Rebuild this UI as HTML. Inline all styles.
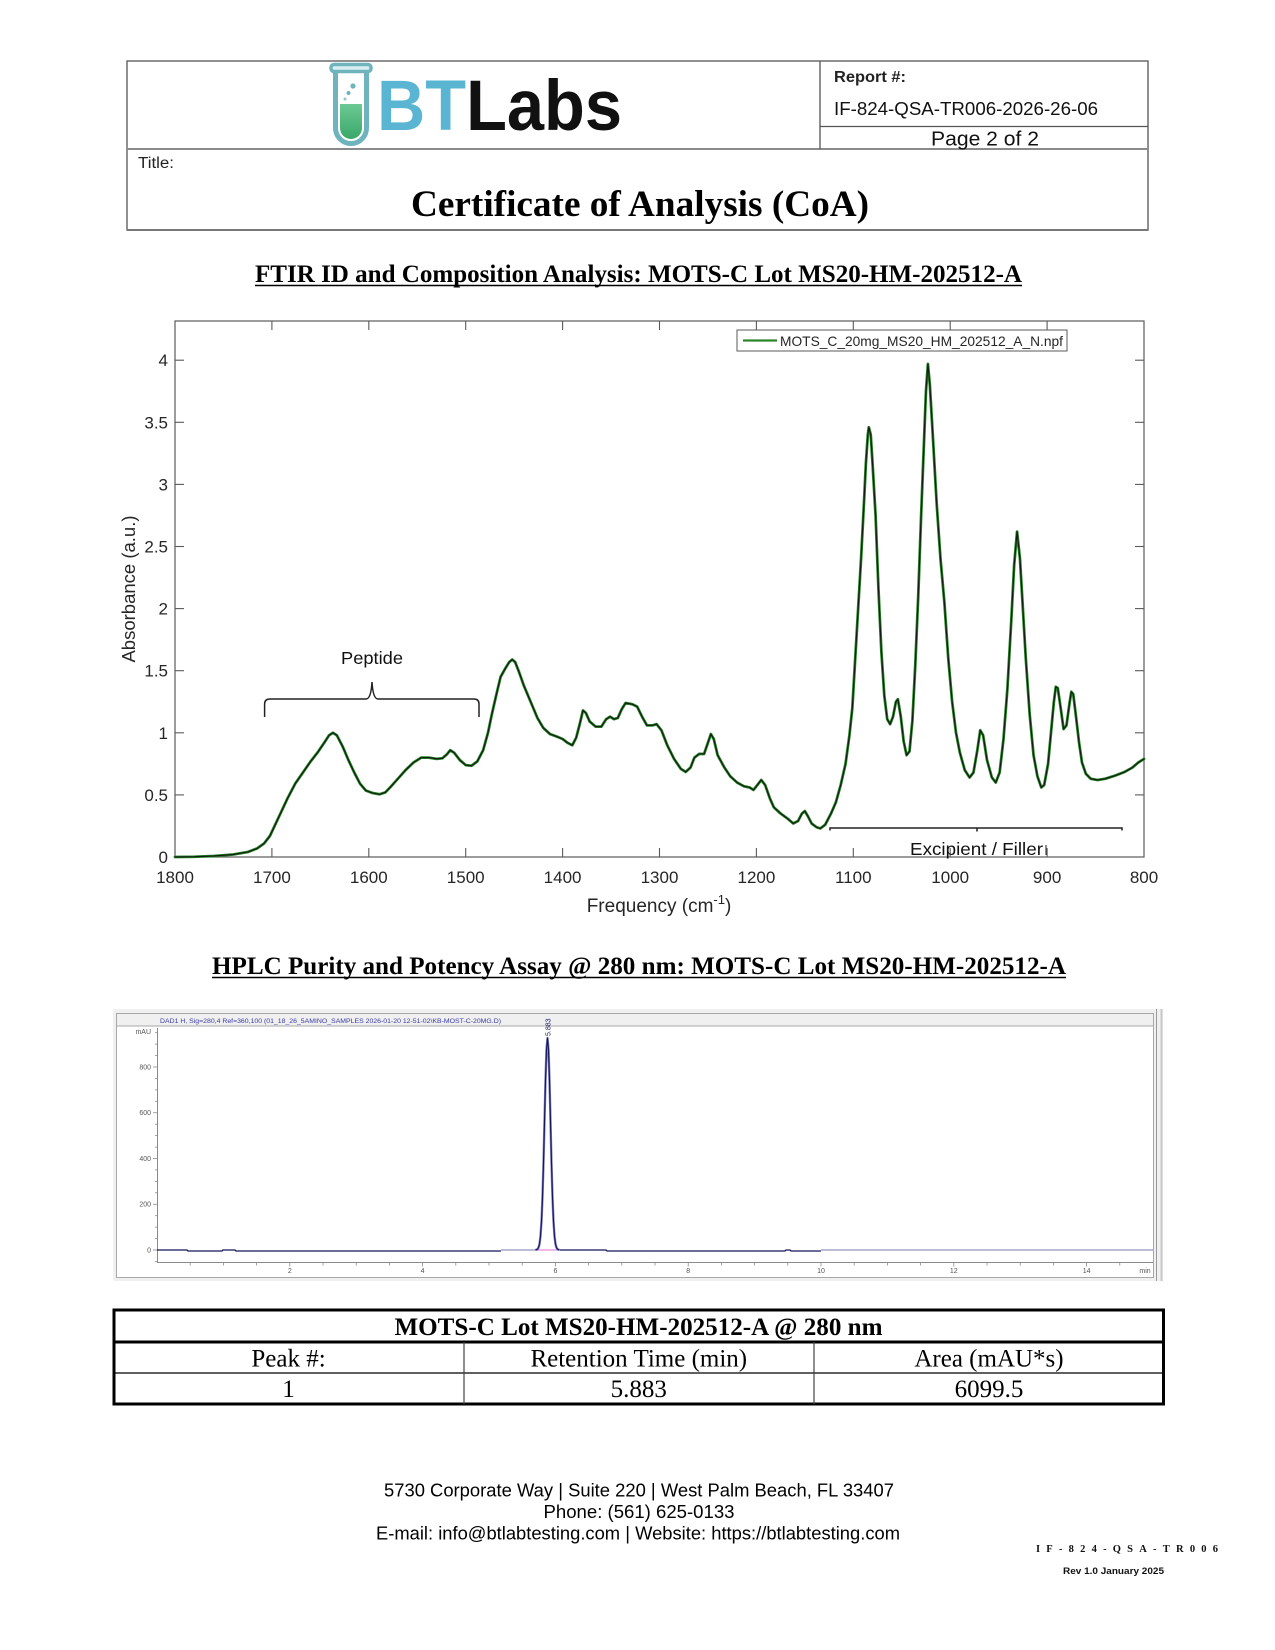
<!DOCTYPE html>
<html>
<head>
<meta charset="utf-8">
<style>
  html,body{margin:0;padding:0;background:#fff;}
  svg{display:block;}
  .sans{font-family:"Liberation Sans",Arial,sans-serif;}
  .serif{font-family:"Liberation Serif","Times New Roman",serif;}
</style>
</head>
<body>
<svg width="1275" height="1650" viewBox="0 0 1275 1650" xmlns="http://www.w3.org/2000/svg">
  <defs>
    <linearGradient id="liq" x1="0" y1="0" x2="0" y2="1">
      <stop offset="0" stop-color="#6cc993"/>
      <stop offset="1" stop-color="#3aa86a"/>
    </linearGradient>
    <polyline id="spec" vector-effect="non-scaling-stroke" points="1800,0 1780,0.002 1760,0.008 1740,0.02 1725,0.04 1715,0.07 1708,0.11 1702,0.17 1696,0.27 1690,0.37 1684,0.47 1676,0.59 1668,0.68 1660,0.77 1653,0.84 1646,0.92 1641,0.98 1637,1.0 1633,0.98 1627,0.89 1621,0.78 1615,0.68 1609,0.59 1603,0.535 1596,0.515 1589,0.505 1583,0.52 1578,0.56 1570,0.63 1562,0.70 1554,0.76 1546,0.80 1538,0.80 1530,0.79 1524,0.795 1519,0.83 1516,0.86 1512,0.84 1506,0.78 1500,0.74 1494,0.735 1488,0.77 1482,0.86 1477,1.0 1473,1.15 1468,1.32 1464,1.45 1459,1.52 1455,1.57 1452,1.59 1449,1.57 1445,1.49 1440,1.38 1433,1.25 1426,1.12 1420,1.04 1413,0.99 1406,0.97 1400,0.95 1395,0.92 1390,0.90 1386,0.96 1382,1.08 1379,1.18 1376,1.16 1372,1.09 1366,1.05 1360,1.05 1355,1.11 1351,1.13 1347,1.11 1343,1.12 1339,1.19 1335,1.24 1328,1.23 1323,1.21 1318,1.13 1313,1.06 1307,1.06 1303,1.07 1298,1.02 1292,0.90 1285,0.79 1278,0.71 1273,0.685 1268,0.72 1264,0.80 1259,0.83 1254,0.83 1250,0.92 1247,0.99 1244,0.95 1240,0.82 1233,0.72 1227,0.65 1220,0.60 1213,0.57 1207,0.56 1203,0.54 1199,0.58 1195,0.62 1191,0.58 1186,0.47 1182,0.40 1175,0.35 1168,0.31 1162,0.27 1157,0.29 1153,0.35 1150,0.37 1147,0.33 1143,0.27 1138,0.24 1134,0.23 1129,0.26 1123,0.35 1118,0.44 1113,0.58 1108,0.75 1104,0.98 1101,1.2 1098,1.6 1095,2.0 1092,2.4 1089,2.85 1087,3.17 1085,3.40 1084,3.46 1082,3.40 1080,3.15 1077,2.75 1074,2.15 1071,1.65 1068,1.30 1065,1.11 1062,1.07 1059,1.13 1056,1.25 1054,1.27 1051,1.13 1048,0.93 1045,0.82 1042,0.85 1039,1.10 1036,1.55 1033,2.1 1030,2.75 1027,3.35 1025,3.75 1023,3.97 1021,3.80 1018,3.40 1014,2.85 1010,2.40 1006,2.05 1002,1.60 998,1.25 994,1.00 990,0.84 985,0.70 980,0.64 976,0.68 972,0.86 969,1.02 966,0.98 962,0.78 957,0.64 953,0.60 949,0.68 945,0.95 941,1.35 937,1.90 934,2.35 931,2.62 928,2.40 925,2.00 922,1.60 918,1.15 914,0.82 910,0.65 906,0.56 903,0.58 899,0.75 896,1.00 893,1.25 891,1.37 889,1.36 886,1.20 883,1.03 880,1.06 877,1.23 875,1.33 873,1.31 870,1.12 867,0.92 864,0.76 860,0.67 855,0.63 848,0.62 840,0.63 830,0.655 820,0.685 812,0.72 806,0.76 800,0.79"/>
  </defs>

  <!-- ================= HEADER BOX ================= -->
  <rect x="127" y="61" width="1021" height="169" fill="none" stroke="#555" stroke-width="1.3"/>
  <line x1="127" y1="149" x2="1148" y2="149" stroke="#8a8a8a" stroke-width="2"/>
  <line x1="127" y1="230" x2="1148" y2="230" stroke="#777" stroke-width="2"/>
  <line x1="820" y1="61" x2="820" y2="149" stroke="#555" stroke-width="1.3"/>
  <line x1="820" y1="126.5" x2="1148" y2="126.5" stroke="#555" stroke-width="1.3"/>

  <!-- logo tube -->
  <rect x="331" y="64.5" width="40" height="7" rx="3" fill="#d9eef1" stroke="#6fb3bd" stroke-width="3.5"/>
  <path d="M335.5 72 L335.5 128 A15.5 15.5 0 0 0 366.5 128 L366.5 72" fill="none" stroke="#6fb3bd" stroke-width="5"/>
  <path d="M340 104 L362 104 L362 128 A11 11 0 0 1 340 128 Z" fill="url(#liq)"/>
  <circle cx="353" cy="86" r="2.6" fill="#6fb3bd"/>
  <circle cx="348.5" cy="93" r="2" fill="#6fb3bd"/>
  <circle cx="345" cy="99" r="1.5" fill="#8cc5cc"/>
  <!-- logo text -->
  <text x="377" y="130" class="sans" font-size="71" font-weight="bold" textLength="245" lengthAdjust="spacingAndGlyphs"><tspan fill="#5ab5d2">BT</tspan><tspan fill="#111">Labs</tspan></text>

  <text x="834" y="82" class="sans" font-size="16" font-weight="bold" fill="#222" textLength="72" lengthAdjust="spacingAndGlyphs">Report #:</text>
  <text x="834" y="115" class="sans" font-size="18" fill="#111" textLength="264" lengthAdjust="spacingAndGlyphs">IF-824-QSA-TR006-2026-26-06</text>
  <text x="985" y="145.5" class="sans" font-size="20" fill="#111" text-anchor="middle" textLength="108" lengthAdjust="spacingAndGlyphs">Page 2 of 2</text>
  <text x="138" y="168" class="sans" font-size="15.5" fill="#222" textLength="36" lengthAdjust="spacingAndGlyphs">Title:</text>
  <text x="640" y="216" class="serif" font-size="37" font-weight="bold" fill="#000" text-anchor="middle" textLength="458" lengthAdjust="spacingAndGlyphs">Certificate of Analysis (CoA)</text>

  <!-- ================= FTIR HEADING ================= -->
  <text x="255" y="282" class="serif" font-size="25" font-weight="bold" fill="#000" textLength="767" lengthAdjust="spacingAndGlyphs">FTIR ID and Composition Analysis: MOTS-C Lot MS20-HM-202512-A</text>
  <line x1="255" y1="285.5" x2="1022" y2="285.5" stroke="#000" stroke-width="1.6"/>

  <!-- ================= FTIR PLOT ================= -->
  <rect x="175" y="321" width="969" height="536" fill="#fff" stroke="#5a5a5a" stroke-width="1.2"/>
  <g stroke="#5a5a5a" stroke-width="1.1">
    <line x1="271.9" y1="857" x2="271.9" y2="848"/><line x1="271.9" y1="321" x2="271.9" y2="330"/>
    <line x1="368.8" y1="857" x2="368.8" y2="848"/><line x1="368.8" y1="321" x2="368.8" y2="330"/>
    <line x1="465.7" y1="857" x2="465.7" y2="848"/><line x1="465.7" y1="321" x2="465.7" y2="330"/>
    <line x1="562.6" y1="857" x2="562.6" y2="848"/><line x1="562.6" y1="321" x2="562.6" y2="330"/>
    <line x1="659.5" y1="857" x2="659.5" y2="848"/><line x1="659.5" y1="321" x2="659.5" y2="330"/>
    <line x1="756.4" y1="857" x2="756.4" y2="848"/><line x1="756.4" y1="321" x2="756.4" y2="330"/>
    <line x1="853.3" y1="857" x2="853.3" y2="848"/><line x1="853.3" y1="321" x2="853.3" y2="330"/>
    <line x1="950.2" y1="857" x2="950.2" y2="848"/><line x1="950.2" y1="321" x2="950.2" y2="330"/>
    <line x1="1047.1" y1="857" x2="1047.1" y2="848"/><line x1="1047.1" y1="321" x2="1047.1" y2="330"/>
    <line x1="175" y1="794.9" x2="184" y2="794.9"/><line x1="1144" y1="794.9" x2="1135" y2="794.9"/>
    <line x1="175" y1="732.8" x2="184" y2="732.8"/><line x1="1144" y1="732.8" x2="1135" y2="732.8"/>
    <line x1="175" y1="670.7" x2="184" y2="670.7"/><line x1="1144" y1="670.7" x2="1135" y2="670.7"/>
    <line x1="175" y1="608.6" x2="184" y2="608.6"/><line x1="1144" y1="608.6" x2="1135" y2="608.6"/>
    <line x1="175" y1="546.5" x2="184" y2="546.5"/><line x1="1144" y1="546.5" x2="1135" y2="546.5"/>
    <line x1="175" y1="484.4" x2="184" y2="484.4"/><line x1="1144" y1="484.4" x2="1135" y2="484.4"/>
    <line x1="175" y1="422.3" x2="184" y2="422.3"/><line x1="1144" y1="422.3" x2="1135" y2="422.3"/>
    <line x1="175" y1="360.2" x2="184" y2="360.2"/><line x1="1144" y1="360.2" x2="1135" y2="360.2"/>
  </g>
  <g class="sans" font-size="17" fill="#262626" text-anchor="middle">
    <text x="175" y="883">1800</text>
    <text x="271.9" y="883">1700</text>
    <text x="368.8" y="883">1600</text>
    <text x="465.7" y="883">1500</text>
    <text x="562.6" y="883">1400</text>
    <text x="659.5" y="883">1300</text>
    <text x="756.4" y="883">1200</text>
    <text x="853.3" y="883">1100</text>
    <text x="950.2" y="883">1000</text>
    <text x="1047.1" y="883">900</text>
    <text x="1144" y="883">800</text>
  </g>
  <g class="sans" font-size="17" fill="#262626" text-anchor="end">
    <text x="168" y="863">0</text>
    <text x="168" y="800.9">0.5</text>
    <text x="168" y="738.8">1</text>
    <text x="168" y="676.7">1.5</text>
    <text x="168" y="614.6">2</text>
    <text x="168" y="552.5">2.5</text>
    <text x="168" y="490.4">3</text>
    <text x="168" y="428.3">3.5</text>
    <text x="168" y="366.2">4</text>
  </g>
  <text transform="translate(135,589) rotate(-90)" class="sans" font-size="18.5" fill="#262626" text-anchor="middle">Absorbance (a.u.)</text>
  <text x="659" y="912" class="sans" font-size="19" fill="#262626" text-anchor="middle">Frequency (cm<tspan font-size="13" dy="-8">-1</tspan><tspan dy="8">)</tspan></text>

  <!-- spectrum -->
  <g transform="matrix(-0.969 0 0 -124.2 1919.2 857)" fill="none" stroke-linejoin="round" stroke-linecap="round">
    <use href="#spec" stroke="#2e852e" stroke-width="2.8"/>
    <use href="#spec" stroke="#0d1f0d" stroke-width="1.2"/>
  </g>

  <!-- legend -->
  <rect x="737" y="330" width="330" height="21" fill="#fff" stroke="#5a5a5a" stroke-width="1"/>
  <line x1="743" y1="340.5" x2="777" y2="340.5" stroke="#2e852e" stroke-width="2.2"/>
  <text x="780" y="346" class="sans" font-size="13.8" fill="#262626" textLength="283" lengthAdjust="spacingAndGlyphs">MOTS_C_20mg_MS20_HM_202512_A_N.npf</text>

  <!-- annotations -->
  <path d="M264.6 717 L264.6 704 Q264.6 699 270 699 L366 699 Q371 699 372 682 Q373 699 378 699 L474 699 Q479 699 479 704 L479 717" fill="none" stroke="#222" stroke-width="1.5"/>
  <text x="372" y="664" class="sans" font-size="17.5" fill="#111" text-anchor="middle" textLength="62" lengthAdjust="spacingAndGlyphs">Peptide</text>
  <path d="M830 830.5 L830 828 L1122 828 L1122 830.5 M977 828 L977 831.5" fill="none" stroke="#222" stroke-width="1.5"/>
  <text x="910" y="855" class="sans" font-size="17.5" fill="#111" textLength="133" lengthAdjust="spacingAndGlyphs">Excipient / Filler</text>
  <line x1="1046" y1="845" x2="1046" y2="855" stroke="#222" stroke-width="1"/>

  <!-- ================= HPLC HEADING ================= -->
  <text x="212" y="974" class="serif" font-size="25" font-weight="bold" fill="#000" textLength="854" lengthAdjust="spacingAndGlyphs">HPLC Purity and Potency Assay @ 280 nm: MOTS-C Lot MS20-HM-202512-A</text>
  <line x1="212" y1="977.5" x2="1066" y2="977.5" stroke="#000" stroke-width="1.6"/>

  <!-- ================= HPLC CHROMATOGRAM ================= -->
  <rect x="113" y="1009" width="1050" height="272" fill="#f0f0f0"/>
  <rect x="116.5" y="1013.5" width="1037" height="264" fill="#fff" stroke="#a8a8a8" stroke-width="1"/>
  <rect x="117" y="1014" width="1036" height="12" fill="#f0f0f0"/>
  <line x1="117" y1="1026" x2="1153" y2="1026" stroke="#a8a8a8" stroke-width="1"/>
  <line x1="1156.5" y1="1009" x2="1156.5" y2="1281" stroke="#9a9a9a" stroke-width="1"/>
  <line x1="1161.5" y1="1009" x2="1161.5" y2="1281" stroke="#c8c8c8" stroke-width="2"/>
  <text x="160" y="1023" class="sans" font-size="6.8" fill="#3a3aa8" textLength="341" lengthAdjust="spacingAndGlyphs">DAD1 H, Sig=280,4 Ref=360,100 (01_18_26_5AMINO_SAMPLES 2026-01-20 12-51-02\KB-MOST-C-20MG.D)</text>

  <!-- axes -->
  <line x1="157.5" y1="1028" x2="157.5" y2="1262" stroke="#8a8a8a" stroke-width="1"/>
  <line x1="157" y1="1262.5" x2="1153" y2="1262.5" stroke="#8a8a8a" stroke-width="1"/>
  <g stroke="#8a8a8a" stroke-width="0.8">
    <line x1="153" y1="1250" x2="157.5" y2="1250"/>
    <line x1="153" y1="1204.25" x2="157.5" y2="1204.25"/>
    <line x1="153" y1="1158.5" x2="157.5" y2="1158.5"/>
    <line x1="153" y1="1112.75" x2="157.5" y2="1112.75"/>
    <line x1="153" y1="1067" x2="157.5" y2="1067"/>
    <line x1="155" y1="1238.6" x2="157.5" y2="1238.6"/>
    <line x1="155" y1="1227.1" x2="157.5" y2="1227.1"/>
    <line x1="155" y1="1215.7" x2="157.5" y2="1215.7"/>
    <line x1="155" y1="1192.8" x2="157.5" y2="1192.8"/>
    <line x1="155" y1="1181.4" x2="157.5" y2="1181.4"/>
    <line x1="155" y1="1169.9" x2="157.5" y2="1169.9"/>
    <line x1="155" y1="1147.1" x2="157.5" y2="1147.1"/>
    <line x1="155" y1="1135.6" x2="157.5" y2="1135.6"/>
    <line x1="155" y1="1124.2" x2="157.5" y2="1124.2"/>
    <line x1="155" y1="1101.3" x2="157.5" y2="1101.3"/>
    <line x1="155" y1="1089.9" x2="157.5" y2="1089.9"/>
    <line x1="155" y1="1078.4" x2="157.5" y2="1078.4"/>
    <line x1="155" y1="1055.6" x2="157.5" y2="1055.6"/>
    <line x1="155" y1="1044.1" x2="157.5" y2="1044.1"/>
    <line x1="155" y1="1032.7" x2="157.5" y2="1032.7"/>
    <line x1="155" y1="1261.4" x2="157.5" y2="1261.4"/>
    <line x1="190.2" y1="1262.5" x2="190.2" y2="1265.5"/>
    <line x1="223.4" y1="1262.5" x2="223.4" y2="1265.5"/>
    <line x1="256.6" y1="1262.5" x2="256.6" y2="1265.5"/>
    <line x1="289.8" y1="1262.5" x2="289.8" y2="1266.5"/>
    <line x1="323" y1="1262.5" x2="323" y2="1265.5"/>
    <line x1="356.2" y1="1262.5" x2="356.2" y2="1265.5"/>
    <line x1="389.4" y1="1262.5" x2="389.4" y2="1265.5"/>
    <line x1="422.6" y1="1262.5" x2="422.6" y2="1266.5"/>
    <line x1="455.8" y1="1262.5" x2="455.8" y2="1265.5"/>
    <line x1="489" y1="1262.5" x2="489" y2="1265.5"/>
    <line x1="522.2" y1="1262.5" x2="522.2" y2="1265.5"/>
    <line x1="555.4" y1="1262.5" x2="555.4" y2="1266.5"/>
    <line x1="588.6" y1="1262.5" x2="588.6" y2="1265.5"/>
    <line x1="621.8" y1="1262.5" x2="621.8" y2="1265.5"/>
    <line x1="655" y1="1262.5" x2="655" y2="1265.5"/>
    <line x1="688.2" y1="1262.5" x2="688.2" y2="1266.5"/>
    <line x1="721.4" y1="1262.5" x2="721.4" y2="1265.5"/>
    <line x1="754.6" y1="1262.5" x2="754.6" y2="1265.5"/>
    <line x1="787.8" y1="1262.5" x2="787.8" y2="1265.5"/>
    <line x1="821" y1="1262.5" x2="821" y2="1266.5"/>
    <line x1="854.2" y1="1262.5" x2="854.2" y2="1265.5"/>
    <line x1="887.4" y1="1262.5" x2="887.4" y2="1265.5"/>
    <line x1="920.6" y1="1262.5" x2="920.6" y2="1265.5"/>
    <line x1="953.8" y1="1262.5" x2="953.8" y2="1266.5"/>
    <line x1="987" y1="1262.5" x2="987" y2="1265.5"/>
    <line x1="1020.2" y1="1262.5" x2="1020.2" y2="1265.5"/>
    <line x1="1053.4" y1="1262.5" x2="1053.4" y2="1265.5"/>
    <line x1="1086.6" y1="1262.5" x2="1086.6" y2="1266.5"/>
    <line x1="1119.8" y1="1262.5" x2="1119.8" y2="1265.5"/>
  </g>
  <g class="sans" font-size="7" fill="#555" text-anchor="end">
    <text x="151" y="1034">mAU</text>
    <text x="151" y="1069.5">800</text>
    <text x="151" y="1115.2">600</text>
    <text x="151" y="1161">400</text>
    <text x="151" y="1206.7">200</text>
    <text x="151" y="1252.5">0</text>
  </g>
  <g class="sans" font-size="7" fill="#555" text-anchor="middle">
    <text x="289.8" y="1273">2</text>
    <text x="422.6" y="1273">4</text>
    <text x="555.4" y="1273">6</text>
    <text x="688.2" y="1273">8</text>
    <text x="821" y="1273">10</text>
    <text x="953.8" y="1273">12</text>
    <text x="1086.6" y="1273">14</text>
    <text x="1145" y="1273">min</text>
  </g>

  <!-- baseline + peak -->
  <line x1="530" y1="1250" x2="561" y2="1250" stroke="#e070d0" stroke-width="1"/>
  <polyline fill="none" stroke="#7a7aa8" stroke-width="1" points="821,1250 1153,1250"/>
  <polyline fill="none" stroke="#7a7aa8" stroke-width="1" points="501,1250 535.5,1250"/>
  <polyline fill="none" stroke="#14145a" stroke-width="1.3" points="157,1250 187,1250 188,1251 222,1251 223,1250 235,1250 236,1251 501,1251"/>
  <polyline fill="none" stroke="#14145a" stroke-width="1.3" points="560,1250 606,1250 607,1251 785,1251 786,1250 790,1250 791,1251 821,1251"/>
  <polyline fill="none" stroke="#8080c0" stroke-width="2.4" stroke-linejoin="round" points="535.5,1250 537.5,1249.2 538.5,1247.6 539.5,1244 540.5,1236.1 541.5,1221.3 542.5,1197.2 543.5,1162.9 544.5,1121.4 545.5,1080.2 546.5,1049.5 547.5,1038 548.5,1049.5 549.5,1080.2 550.5,1121.4 551.5,1162.9 552.5,1197.2 553.5,1221.3 554.5,1236.1 555.5,1244 556.5,1247.6 557.5,1249.2 559.5,1250"/>
  <polyline fill="none" stroke="#14145a" stroke-width="1.1" stroke-linejoin="round" points="535.5,1250 537.5,1249.2 538.5,1247.6 539.5,1244 540.5,1236.1 541.5,1221.3 542.5,1197.2 543.5,1162.9 544.5,1121.4 545.5,1080.2 546.5,1049.5 547.5,1038 548.5,1049.5 549.5,1080.2 550.5,1121.4 551.5,1162.9 552.5,1197.2 553.5,1221.3 554.5,1236.1 555.5,1244 556.5,1247.6 557.5,1249.2 559.5,1250"/>
  <text transform="translate(550.5,1036) rotate(-90)" class="sans" font-size="7" fill="#202060" text-anchor="start">5.883</text>

  <!-- ================= TABLE ================= -->
  <rect x="114" y="1310" width="1049.5" height="94" fill="#fff" stroke="#000" stroke-width="3"/>
  <line x1="114" y1="1342" x2="1163.5" y2="1342" stroke="#000" stroke-width="3"/>
  <line x1="114" y1="1373" x2="1163.5" y2="1373" stroke="#000" stroke-width="1.2"/>
  <line x1="464" y1="1342" x2="464" y2="1404" stroke="#444" stroke-width="1.2"/>
  <line x1="814" y1="1342" x2="814" y2="1404" stroke="#444" stroke-width="1.2"/>
  <text x="638.5" y="1335" class="serif" font-size="25" font-weight="bold" fill="#000" text-anchor="middle" textLength="488" lengthAdjust="spacingAndGlyphs">MOTS-C Lot MS20-HM-202512-A @ 280 nm</text>
  <g class="serif" font-size="25" fill="#000" text-anchor="middle">
    <text x="288.5" y="1366.5">Peak #:</text>
    <text x="638.8" y="1366.5">Retention Time (min)</text>
    <text x="989" y="1366.5">Area (mAU*s)</text>
    <text x="288.5" y="1397">1</text>
    <text x="638.8" y="1397">5.883</text>
    <text x="989" y="1397">6099.5</text>
  </g>

  <!-- ================= FOOTER ================= -->
  <g class="sans" font-size="18" fill="#000" text-anchor="middle">
    <text x="639" y="1496.5" textLength="510" lengthAdjust="spacingAndGlyphs">5730 Corporate Way | Suite 220 | West Palm Beach, FL 33407</text>
    <text x="639" y="1518" textLength="191" lengthAdjust="spacingAndGlyphs">Phone: (561) 625-0133</text>
    <text x="638" y="1539.5" textLength="524" lengthAdjust="spacingAndGlyphs">E-mail: info@btlabtesting.com | Website: https://btlabtesting.com</text>
  </g>
  <text x="1036" y="1552" class="serif" font-size="10.5" font-weight="bold" fill="#111" textLength="182" lengthAdjust="spacing">IF-824-QSA-TR006</text>
  <text x="1063" y="1574" class="sans" font-size="9.5" font-weight="bold" fill="#111" textLength="101" lengthAdjust="spacingAndGlyphs">Rev 1.0 January 2025</text>
</svg>
</body>
</html>
